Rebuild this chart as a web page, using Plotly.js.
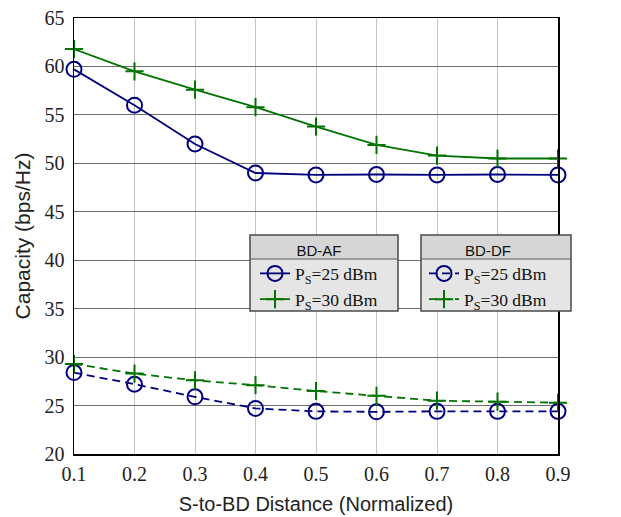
<!DOCTYPE html>
<html>
<head>
<meta charset="utf-8">
<script src="https://cdn.plot.ly/plotly-3.0.1.min.js"></script>
<style>
  html, body { margin: 0; padding: 0; background: #fff; }
  #chart { width: 621px; height: 517px; }
</style>
</head>
<body>
<div id="chart"></div>
<script>
// Normalized source-to-backscatter-device distance
const distance = [0.1, 0.2, 0.3, 0.4, 0.5, 0.6, 0.7, 0.8, 0.9];

// Capacity (bps/Hz), amplify-and-forward backscatter
const afPs25 = [59.7, 56.0, 52.0, 49.0, 48.8, 48.85, 48.8, 48.85, 48.8];
const afPs30 = [61.8, 59.5, 57.6, 55.8, 53.8, 51.9, 50.8, 50.5, 50.5];

// Capacity (bps/Hz), decode-and-forward backscatter
const dfPs25 = [28.4, 27.2, 25.9, 24.7, 24.4, 24.35, 24.4, 24.4, 24.4];
const dfPs30 = [29.3, 28.3, 27.6, 27.1, 26.5, 26.0, 25.5, 25.4, 25.3];

const seriesNames = ['P<sub>S</sub>=25 dBm', 'P<sub>S</sub>=30 dBm'];
const groupTitles = ['BD-AF', 'BD-DF'];

const NAVY = '#00007f';
const GREEN = '#007300';
const SERIF = '"Liberation Serif", "Times New Roman", serif';
const SANS = '"Liberation Sans", Arial, sans-serif';

function trace(y, name, color, symbol, dash, legendId) {
  const isCircle = symbol === 'circle-open';
  return {
    x: distance, y: y, name: name, type: 'scatter', mode: 'lines+markers',
    line: { color: color, width: 1.8, dash: dash },
    marker: {
      symbol: symbol, color: color,
      size: isCircle ? 15 : 13,
      line: { color: color, width: 2 }
    },
    cliponaxis: false,
    legend: legendId
  };
}

const DASHED = '8px,5px';
const data = [
  trace(afPs25, seriesNames[0], NAVY, 'circle-open', 'solid', 'legend'),
  trace(afPs30, seriesNames[1], GREEN, 'cross-thin-open', 'solid', 'legend'),
  trace(dfPs25, seriesNames[0], NAVY, 'circle-open', DASHED, 'legend2'),
  trace(dfPs30, seriesNames[1], GREEN, 'cross-thin-open', DASHED, 'legend2')
];

// Plot area in pixels, used to place the legend panels
const W = 621, H = 517;
const M = { l: 74, r: 63, t: 18, b: 63 };
const pw = W - M.l - M.r, ph = H - M.t - M.b;
const px = v => (v - M.l) / pw;
const py = v => (H - M.b - v) / ph;

// Legend panel boxes: [left, right, top, headerBottom, bottom] in pixels
const panels = [
  [250, 398, 235, 259, 311],
  [421, 571, 235, 259, 311]
];
// Horizontal nudge of each legend's content inside its panel (px)
const legendInset = [5, 3];

const shapes = [];
panels.forEach(p => {
  shapes.push({ type: 'rect', xref: 'paper', yref: 'paper', layer: 'above',
    x0: px(p[0]), x1: px(p[1]), y0: py(p[4]), y1: py(p[3]),
    fillcolor: '#e5e5e5', line: { width: 0 } });
  shapes.push({ type: 'rect', xref: 'paper', yref: 'paper', layer: 'above',
    x0: px(p[0]), x1: px(p[1]), y0: py(p[3]), y1: py(p[2]),
    fillcolor: '#d6d6d6', line: { width: 0 } });
  shapes.push({ type: 'line', xref: 'paper', yref: 'paper', layer: 'above',
    x0: px(p[0]), x1: px(p[1]), y0: py(p[3]), y1: py(p[3]),
    line: { color: '#5a5a5a', width: 1.2 } });
  shapes.push({ type: 'rect', xref: 'paper', yref: 'paper', layer: 'above',
    x0: px(p[0]), x1: px(p[1]), y0: py(p[4]), y1: py(p[2]),
    fillcolor: 'rgba(0,0,0,0)', line: { color: '#4a4a4a', width: 1.5 } });
});

function legendAt(i) {
  const p = panels[i];
  return {
    title: { text: groupTitles[i], side: 'top center',
      font: { family: SANS, size: 15, color: '#111' } },
    x: px(p[0] + legendInset[i]), y: py(p[2] + 1),
    xanchor: 'left', yanchor: 'top',
    bgcolor: 'rgba(0,0,0,0)', borderwidth: 0,
    font: { family: SERIF, size: 17.5, color: '#111' },
    tracegroupgap: 0
  };
}

const layout = {
  width: W, height: H,
  margin: M,
  paper_bgcolor: '#ffffff', plot_bgcolor: '#ffffff',
  showlegend: true,
  legend: legendAt(0),
  legend2: legendAt(1),
  xaxis: {
    range: [0.1, 0.9], dtick: 0.1, tick0: 0.1,
    showgrid: true, gridcolor: '#c4c4c4', gridwidth: 1,
    zeroline: false,
    showline: true, linecolor: '#000', linewidth: 1.5, mirror: true,
    ticks: '', ticklabelstandoff: 1,
    tickfont: { family: SERIF, size: 20, color: '#222' },
    title: { text: 'S-to-BD Distance (Normalized)', standoff: 13,
      font: { family: SANS, size: 20, color: '#222' } }
  },
  yaxis: {
    range: [20, 65], dtick: 5, tick0: 20,
    showgrid: true, gridcolor: '#6e6e6e', gridwidth: 1,
    zeroline: false,
    showline: true, linecolor: '#000', linewidth: 1.5, mirror: true,
    ticks: '', ticklabelstandoff: 4,
    tickfont: { family: SERIF, size: 20, color: '#222' },
    title: { text: 'Capacity (bps/Hz)', standoff: 8,
      font: { family: SANS, size: 21, color: '#222' } }
  },
  shapes: shapes
};

Plotly.newPlot('chart', data, layout, { displayModeBar: false, staticPlot: true });
</script>
</body>
</html>
